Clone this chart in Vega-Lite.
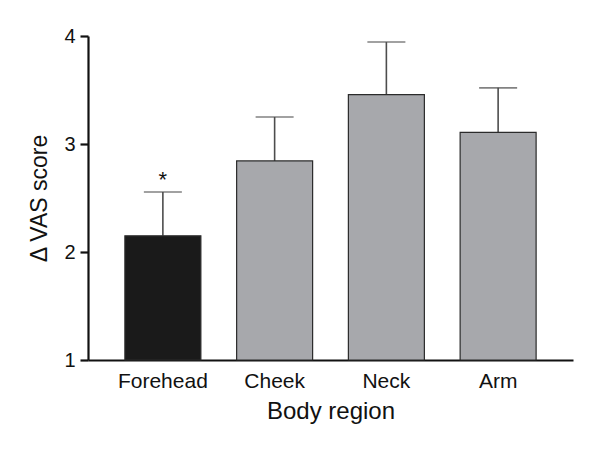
{
  "$schema": "https://vega.github.io/schema/vega-lite/v6.json",
  "width": 485,
  "height": 324,
  "autosize": {"type": "none"},
  "padding": {"left": 88, "top": 36, "right": 27, "bottom": 92},
  "background": "white",
  "config": {
    "view": {"stroke": null},
    "font": "Liberation Sans",
    "axis": {"grid": false, "labelFont": "Liberation Sans", "titleFont": "Liberation Sans", "labelColor": "#111111", "titleColor": "#111111", "titleFontWeight": "normal", "domainColor": "#111111", "tickColor": "#111111"}
  },
  "data": {
    "values": [
      {"region": "Forehead", "mean": 2.15, "upper": 2.556, "group": "Forehead", "sig": "*"},
      {"region": "Cheek", "mean": 2.843, "upper": 3.25, "group": "Other", "sig": ""},
      {"region": "Neck", "mean": 3.457, "upper": 3.944, "group": "Other", "sig": ""},
      {"region": "Arm", "mean": 3.108, "upper": 3.52, "group": "Other", "sig": ""}
    ]
  },
  "encoding": {
    "x": {
      "field": "region",
      "type": "nominal",
      "sort": null,
      "scale": {"paddingInner": 0.32, "paddingOuter": 0.33},
      "axis": {"title": "Body region", "labelAngle": 0, "labelFontSize": 21, "titleFontSize": 24, "ticks": false, "labelPadding": 10, "titlePadding": 8, "domainWidth": 2.2}
    }
  },
  "layer": [
    {
      "mark": {"type": "rule", "color": "#4d4d4d", "strokeWidth": 1.6},
      "encoding": {
        "y": {"field": "mean", "type": "quantitative"},
        "y2": {"field": "upper"}
      }
    },
    {
      "mark": {"type": "tick", "color": "#4d4d4d", "thickness": 1.6, "size": 38, "orient": "horizontal"},
      "encoding": {
        "y": {"field": "upper", "type": "quantitative"}
      }
    },
    {
      "mark": {"type": "bar", "stroke": "#2b2b2b", "strokeWidth": 1.2},
      "encoding": {
        "y": {
          "field": "mean",
          "type": "quantitative",
          "scale": {"domain": [1, 4], "zero": false, "nice": false},
          "axis": {"title": "\u0394 VAS score", "values": [1, 2, 3, 4], "format": "d", "labelFontSize": 20, "titleFontSize": 23, "tickSize": 8, "tickWidth": 2.2, "domainWidth": 2.2, "labelPadding": 5, "titlePadding": 12}
        },
        "y2": {"datum": 1},
        "color": {
          "field": "group",
          "type": "nominal",
          "scale": {"domain": ["Forehead", "Other"], "range": ["#1a1a1a", "#a7a8ac"]},
          "legend": null
        }
      }
    },
    {
      "mark": {"type": "text", "fontSize": 22, "dy": -5, "baseline": "alphabetic", "color": "#111111"},
      "encoding": {
        "y": {"field": "upper", "type": "quantitative"},
        "text": {"field": "sig"}
      }
    }
  ]
}
